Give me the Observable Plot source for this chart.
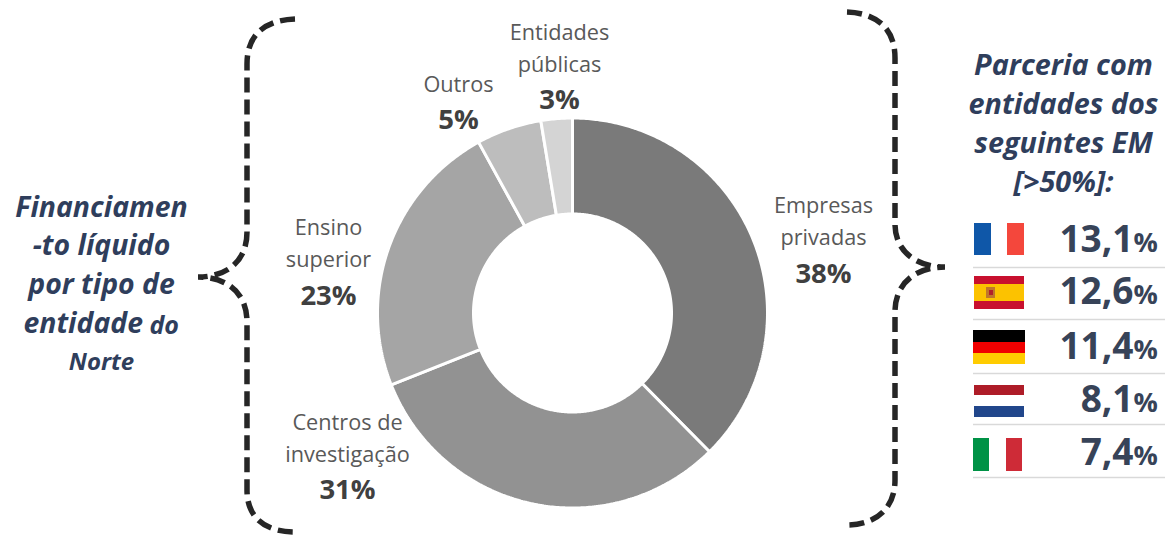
<!DOCTYPE html>
<html><head><meta charset="utf-8">
<style>html,body{margin:0;padding:0;background:#fff}svg{display:block}</style>
<script src="https://cdn.jsdelivr.net/npm/d3@7"></script>
<script src="https://cdn.jsdelivr.net/npm/@observablehq/plot@0.6"></script>
</head><body><div id="chart"></div>
<script>
const categories = ["Empresas privadas","Centros de investigação","Ensino superior","Outros","Entidades públicas"];
const shares = [37.6,31.4,23,5.4,2.6];
const sliceColors = ["#7a7a7a","#929292","#a5a5a5","#bdbdbd","#d4d4d4"];

const labelLines = [
 ["Empresas\nprivadas",823,218],["Centros de\ninvestigação",347,435],["Ensino\nsuperior",328,240],["Outros",458,81],["Entidades\npúblicas",559,45]
];
const pctLabels = [["38%",823,274],["31%",347,490],["23%",328,296],["5%",458,120],["3%",559,100]];

const leftLines = [["Financiamen",101,207],["-to líquido",101,245],["por tipo de",101,284]];
const rightLines = [["Parceria com",1063,65],["entidades dos",1063,104],["seguintes EM",1063,143],["[>50%]:",1063,182]];

const countryValues = ["13,1","12,6","11,4","8,1","7,4"];
const valueRows = [240,292,347,400,453];
const ruleRows = [267,319,373,424,477];
const flagBands = [
 [974,991,223,255,"#0f57a8"],[1007,1024,223,255,"#f4473c"],
 [974,1024,276,309,"#c8102e"],[974,1024,284,301,"#fcc200"],
 [973,1025,330,342,"#000000"],[973,1025,342,353,"#f00000"],[973,1025,353,364,"#ffcc00"],
 [974,1024,385,395,"#ae1c28"],[974,1024,406,417,"#21468b"],
 [973,989,438,471,"#009246"],[1006,1022,438,471,"#ce2b37"],
 [986,995,287,298,"#c0762a"],[989,993,290,295,"#b3202a"]
];

const braces = [
 "M295 19C268 20 247 32 247 64L247 232C247 262 226 277 198 277C226 277 247 292 247 322L247 490C247 520 268 532 295 532",
 "M847 12C874 13 895 26 895 58L895 224C895 252 917 267 945 267C917 267 895 282 895 312L895 480C895 510 874 525 847 525"
];

const cx = 572, cy = 312.5, R = 195, r = 99;
const arcs = d3.pie().sort(null).value(d => d)(shares);
const polar = (a, rad) => [cx + rad*Math.sin(a), cy - rad*Math.cos(a)];
const slicePts = arcs.flatMap((d,i) => {
  const n = Math.max(4, Math.ceil((d.endAngle-d.startAngle)/0.01));
  const angles = d3.range(n+1).map(k => d.startAngle + (d.endAngle-d.startAngle)*k/n);
  const ring = [...angles.map(a=>polar(a,R)), ...angles.reverse().map(a=>polar(a,r))];
  ring.push(ring[0]);
  return ring.map(p => ({x:p[0], y:p[1], cat:categories[i], c:sliceColors[i]}));
});

const font = "Open Sans";
const navy = "#2f3e5c";
const ink = "#374358";

const chart = Plot.plot({
  width:1165, height:535, margin:0,
  style:{background:"#fff", fontFamily:font},
  x:{domain:[0,1165], range:[0,1165], axis:null},
  y:{domain:[0,535], range:[0,535], axis:null},
  marks:[
    Plot.line(slicePts,{x:"x",y:"y",z:"cat",fill:"c",stroke:"#fff",strokeWidth:3,strokeLinejoin:"miter"}),
    Plot.text(labelLines,{x:d=>d[1],y:d=>d[2],text:d=>d[0],fontSize:21.7,lineHeight:1.5,fill:"#595959",fontFamily:font,textAnchor:"middle"}),
    Plot.text(pctLabels,{x:d=>d[1],y:d=>d[2],text:d=>d[0],fontSize:27.5,fontWeight:700,fill:"#404040",fontFamily:font,textAnchor:"middle"}),
    Plot.text(leftLines,{x:d=>d[1],y:d=>d[2],text:d=>d[0],fontSize:28.4,fontWeight:700,fontStyle:"italic",fill:navy,fontFamily:font,textAnchor:"middle"}),
    Plot.text(["entidade"],{x:[23],y:[323],text:d=>d,fontSize:28.4,fontWeight:700,fontStyle:"italic",fill:navy,fontFamily:font,textAnchor:"start"}),
    Plot.text(["do"],{x:[149],y:[325],text:d=>d,fontSize:25,fontWeight:700,fontStyle:"italic",fill:navy,fontFamily:font,textAnchor:"start"}),
    Plot.text(["Norte"],{x:[101],y:[362],text:d=>d,fontSize:24,fontWeight:700,fontStyle:"italic",fill:navy,fontFamily:font,textAnchor:"middle"}),
    Plot.text(rightLines,{x:d=>d[1],y:d=>d[2],text:d=>d[0],fontSize:28.8,fontWeight:700,fontStyle:"italic",fill:navy,fontFamily:font,textAnchor:"middle"}),
    Plot.rect(flagBands,{x1:d=>d[0],x2:d=>d[1],y1:d=>d[2],y2:d=>d[3],fill:d=>d[4]}),
    Plot.ruleY(ruleRows,{x1:973,x2:1165,stroke:"#d9d9d9",strokeWidth:1.5}),
    Plot.text(countryValues,{x:1133,y:(d,i)=>valueRows[i],text:d=>d,fontSize:37,fontWeight:700,fill:ink,fontFamily:font,textAnchor:"end"}),
    Plot.text(countryValues,{x:1133,y:(d,i)=>valueRows[i]+3,text:()=>"%",fontSize:27,fontWeight:700,fill:ink,fontFamily:font,textAnchor:"start"}),
    () => {
      const g = d3.create("svg:g");
      g.selectAll("path").data(braces).join("path")
        .attr("d",d=>d).attr("fill","none").attr("stroke","#262626")
        .attr("stroke-width",5.5).attr("stroke-dasharray","15 7");
      return g.node();
    }
  ]
});
chart.style.maxWidth="none";
document.getElementById("chart").append(chart);
</script>
</body></html>
